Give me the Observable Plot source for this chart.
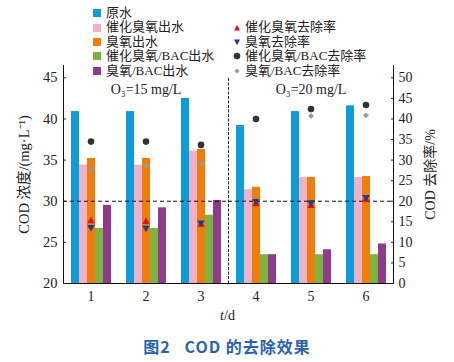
<!DOCTYPE html>
<html><head><meta charset="utf-8">
<script src="https://cdn.jsdelivr.net/npm/d3@7"></script>
<script src="https://cdn.jsdelivr.net/npm/@observablehq/plot@0.6"></script>
<style>
body{margin:0;background:#fff;}
#wrap{position:relative;width:454px;height:362px;overflow:hidden;font-family:"Liberation Serif","Noto Sans CJK SC",serif;color:#222;}
#chart{position:absolute;left:0;top:0;}
.lg{position:absolute;font-size:13px;line-height:14.4px;}
.row{display:flex;align-items:center;height:14.4px;white-space:nowrap;}
.sw{display:inline-block;width:8px;height:8px;margin-right:5px;}
.mk{display:inline-block;width:8px;height:8px;margin-right:4px;}
#xl{position:absolute;left:62px;width:331px;top:307px;text-align:center;font-size:14px;line-height:18px;}
#cap{position:absolute;left:0;width:454px;top:336px;text-align:center;font-family:"Noto Sans CJK SC",sans-serif;font-weight:bold;font-size:16px;letter-spacing:1px;line-height:20px;color:#2a62b0;}
</style></head><body>
<div id="wrap">
  <div id="chart"></div>
  <div id="legL" class="lg" style="left:93px;top:6px"></div>
  <div id="legR" class="lg" style="left:233px;top:20.4px"></div>
  <div id="xl"><i>t</i>/d</div>
  <div id="cap">图2&nbsp;&nbsp;&nbsp;COD 的去除效果</div>
</div>
<script>
const days = ["1","2","3","4","5","6"];
const series = ["原水","催化臭氧出水","臭氧出水","催化臭氧/BAC出水","臭氧/BAC出水"];
const seriesColors = ["#0f9ad8","#efb3c9","#f07d0b","#7cb342","#8e3b8e"];
const rawWater    = [40.9,40.9,42.5,39.2,40.9,41.6];
const catOzoneOut = [34.4,34.4,36.1,31.4,32.9,32.9];
const ozoneOut    = [35.2,35.2,36.3,31.7,32.9,33.0];
const catBacOut   = [26.7,26.7,28.3,23.5,23.5,23.5];
const bacOut      = [29.5,29.2,30.1,23.5,24.1,24.8];

const removalNames = ["催化臭氧去除率","臭氧去除率","催化臭氧/BAC去除率","臭氧/BAC去除率"];
const catOzoneRemoval = [15.2,15.0,14.3,19.3,18.9,20.4];
const ozoneRemoval    = [13.7,13.5,14.8,20.0,19.7,21.0];
const catBacRemoval   = [34.5,34.5,33.7,40.0,42.4,43.4];
const bacRemoval      = [27.8,28.6,29.2,40.0,40.7,40.9];

const leftTicks = [20,25,30,35,40,45];
const rightTicks = [0,5,10,15,20,25,30,35,40,45,50];
const conditionLabels = ["O₃=15 mg/L","O₃=20 mg/L"];
const conditionDays = ["2","5"];
const refLine = 30;

// scales: left COD 20..46.5 ; right removal 0..50 maps to left 20..45
const yDomain = [20, 46.5];
const toLeft = r => 20 + r * (25 / 50);

const concValues = [rawWater, catOzoneOut, ozoneOut, catBacOut, bacOut];
const bars = [];
series.forEach((s, i) => days.forEach((d, j) => bars.push({day: d, series: s, value: concValues[i][j]})));

const rem = (arr) => days.map((d, j) => ({day: d, value: toLeft(arr[j])}));
const conds = conditionLabels.map((t, i) => ({day: conditionDays[i], text: t}));

const plot = Plot.plot({
  width: 454, height: 330,
  marginTop: 65, marginBottom: 47, marginLeft: 62, marginRight: 61,
  style: {fontFamily: '"Liberation Serif","Noto Sans CJK SC",serif', fontSize: "14px", color: "#222", background: "#fff"},
  fx: {domain: days, padding: 0, axis: "bottom", tickSize: 0, tickPadding: 8, label: null},
  x: {domain: series, paddingInner: 0, paddingOuter: 0.68, axis: null},
  y: {domain: yDomain, axis: null},
  color: {domain: series, range: seriesColors},
  marks: [
    Plot.barY(bars, {fx: "day", x: "series", y1: yDomain[0], y2: "value", fill: "series", inset: 0}),
    Plot.ruleY([refLine], {stroke: "#111", strokeDasharray: "4,3", strokeWidth: 1}),
    Plot.frame({anchor: "left", fx: "4", stroke: "#222", strokeDasharray: "2,2.5", insetTop: 13}),
    Plot.frame({anchor: "bottom", stroke: "#111"}),
    Plot.frame({anchor: "left", fx: "1", stroke: "#111"}),
    Plot.frame({anchor: "right", fx: "6", stroke: "#111"}),
    Plot.axisY(leftTicks, {anchor: "left", tickSize: -3, tickPadding: 9, label: "COD 浓度/(mg·L⁻¹)", labelAnchor: "center", labelOffset: 45, labelArrow: "none", fontSize: 14.5}),
    Plot.axisY(rightTicks.map(toLeft), {anchor: "right", tickSize: -3, tickPadding: 8, tickFormat: d => Math.round((d - 20) * 2), label: "COD 去除率/%", labelAnchor: "center", labelOffset: 41, labelArrow: "none"}),
    Plot.text(conds, {fx: "day", text: "text", frameAnchor: "top", dy: 19, fontSize: 14}),
    Plot.dot(rem(bacRemoval), {fx: "day", y: "value", symbol: "diamond2", r: 2.6, fill: "#999", stroke: "none"}),
    Plot.dot(rem(catBacRemoval), {fx: "day", y: "value", symbol: "circle", r: 3.3, fill: "#333", stroke: "none"}),
    Plot.dot(rem(catOzoneRemoval), {fx: "day", y: "value", symbol: "triangle", r: 2.8, fill: "#d8142a", stroke: "none"}),
    Plot.dot(rem(ozoneRemoval), {fx: "day", y: "value", symbol: "triangle", rotate: 180, r: 2.8, fill: "#1a3d8f", stroke: "none"})
  ]
});
document.getElementById("chart").appendChild(plot);

// legend
const legL = document.getElementById("legL");
series.forEach((s, i) => {
  const row = document.createElement("div");
  row.className = "row";
  row.innerHTML = `<span class="sw" style="background:${seriesColors[i]}"></span>${s}`;
  legL.appendChild(row);
});
const markerSvgs = [
  `<svg class="mk" viewBox="-4 -4 8 8"><path d="M0,-3.2L3,2.4L-3,2.4Z" fill="#d8142a"/></svg>`,
  `<svg class="mk" viewBox="-4 -4 8 8"><path d="M0,3.2L3,-2.4L-3,-2.4Z" fill="#1a3d8f"/></svg>`,
  `<svg class="mk" viewBox="-4 -4 8 8"><circle r="3.3" fill="#333"/></svg>`,
  `<svg class="mk" viewBox="-4 -4 8 8"><path d="M0,-2.6L2.6,0L0,2.6L-2.6,0Z" fill="#999"/></svg>`
];
const legR = document.getElementById("legR");
removalNames.forEach((s, i) => {
  const row = document.createElement("div");
  row.className = "row";
  row.innerHTML = markerSvgs[i] + s;
  legR.appendChild(row);
});
</script>
</body></html>
